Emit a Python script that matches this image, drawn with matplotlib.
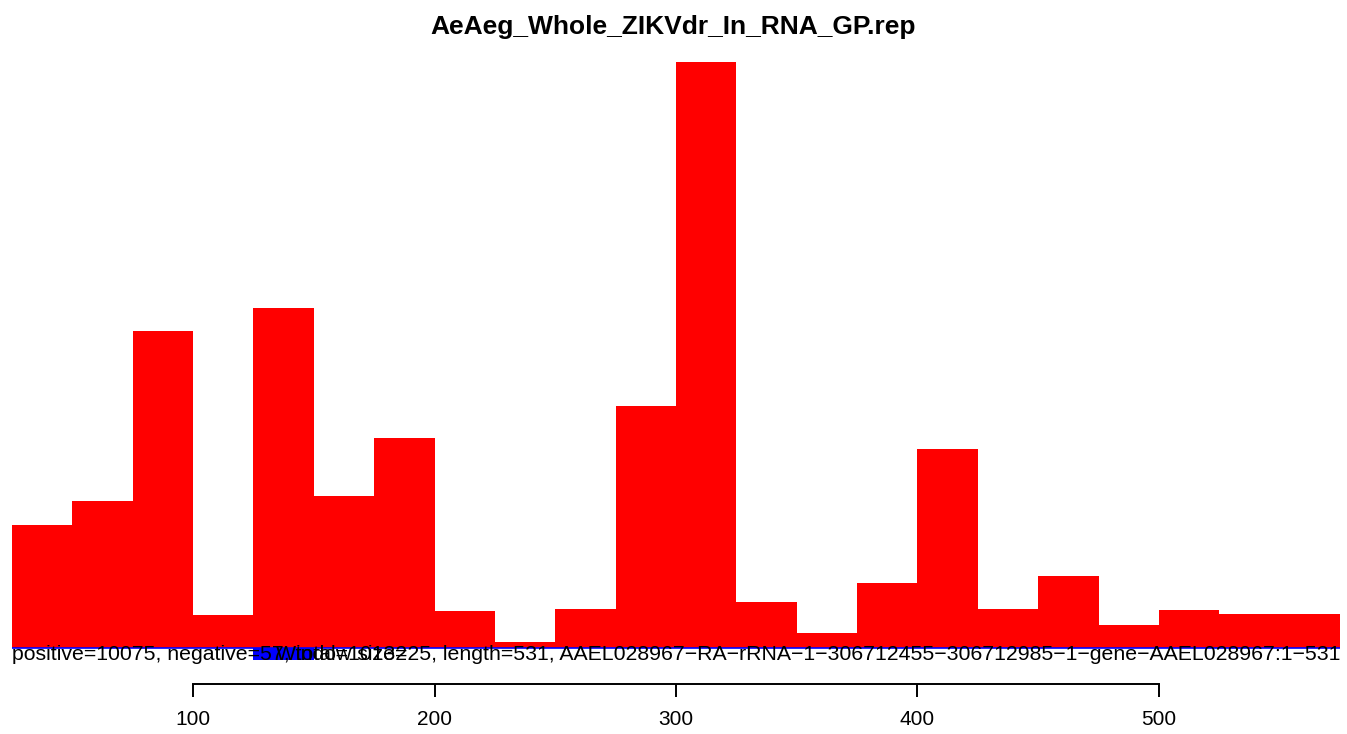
import numpy as np
import matplotlib
matplotlib.use('Agg')
import matplotlib.pyplot as plt

plt.rcParams['font.family'] = ['Liberation Sans', 'DejaVu Sans']

# window starts (size 25) and read counts per window
win_start = [25, 50, 75, 100, 125, 150, 175, 200, 225, 250, 275,
             300, 325, 350, 375, 400, 425, 450, 475, 500, 525, 550]
pos_counts = [443, 529, 1141, 119, 1224, 547, 756, 133, 22, 140, 871,
              2110, 166, 54, 234, 716, 140, 259, 83, 137, 122, 122]
neg_counts = [0, 0, 0, 0, 43, 0, 0, 0, 0, 0, 0,
              0, 0, 0, 0, 0, 0, 0, 0, 0, 0, 0]
win_size = 25
title = 'AeAeg_Whole_ZIKVdr_In_RNA_GP.rep'
left_text = 'positive=10075, negative=57, total=10132'
right_text = ('Window size=25, length=531, '
              'AAEL028967\u2212RA\u2212rRNA\u22121\u2212306712455\u2212306712985'
              '\u22121\u2212gene\u2212AAEL028967:1\u2212531')

W, H = 1347, 734
fig = plt.figure(figsize=(W / 100, H / 100), dpi=100)
ax = fig.add_axes([12 / W, 1 - 660 / H, (1340 - 12) / W, (660 - 62) / H])

ax.bar(win_start, pos_counts, width=win_size, align='edge', color='red', linewidth=0)
ax.bar(win_start, [-v for v in neg_counts], width=win_size, align='edge', color='blue', linewidth=0)
ax.axhline(0, color='blue', lw=1.2)

ax.set_xlim(25, 575)
ax.set_ylim(-max(neg_counts), max(pos_counts))

for s in ['top', 'left', 'right']:
    ax.spines[s].set_visible(False)
ax.spines['bottom'].set_position(('outward', 17.3))
ax.spines['bottom'].set_bounds(100, 500)
ax.spines['bottom'].set_linewidth(1.4)
ax.set_xticks([100, 200, 300, 400, 500])
ax.tick_params(axis='x', direction='out', length=9.4, width=1.4, pad=9, labelsize=15)
ax.set_yticks([])

yoff = (660 - 655) / (660 - 62)
ax.text(0, yoff, left_text, transform=ax.transAxes, ha='left', va='center',
        fontsize=15.3)
ax.text(1, yoff, right_text, transform=ax.transAxes, ha='right', va='center',
        fontsize=15.3)

fig.text(0.5, 1 - 27 / H, title, ha='center', va='center', fontsize=19, fontweight='bold')

fig.savefig('out.png', dpi=100)
